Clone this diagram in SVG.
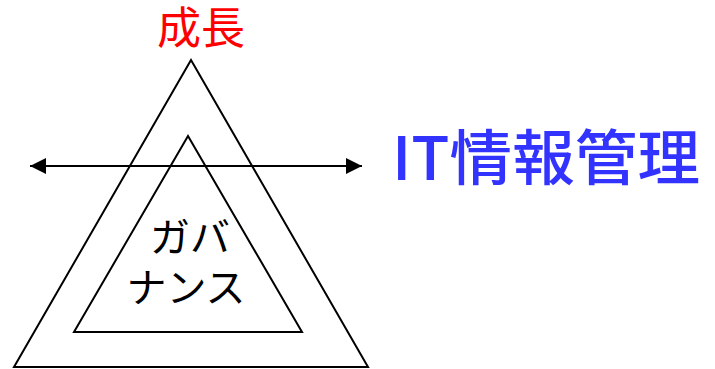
<svg xmlns="http://www.w3.org/2000/svg" width="715" height="369" viewBox="0 0 715 369">
<style>
.tri{fill:none;stroke:#000;stroke-width:2;stroke-linejoin:miter}
.jp{font-family:"Noto Sans CJK JP","Noto Sans",sans-serif}
</style>
<defs>
<marker id="ah" viewBox="0 0 16 16" refX="16" refY="8" markerWidth="16" markerHeight="16" markerUnits="userSpaceOnUse" orient="auto-start-reverse">
<path d="M0,0 L16,8 L0,16 Z" fill="#000"/>
</marker>
</defs>
<rect width="715" height="369" fill="#fff"/>
<g id="outer"><polygon class="tri" points="191,60 14,367 368,367"/></g>
<g id="inner"><polygon class="tri" points="188,136 74,332 302,332"/></g>
<g id="connectors"><line x1="30" y1="166" x2="362" y2="166" stroke="#000" stroke-width="2" marker-start="url(#ah)" marker-end="url(#ah)"/></g>
<g id="growth"><text class="jp" x="201" y="44" font-size="44" fill="#ff0000" text-anchor="middle">成長</text></g>
<g id="it"><text class="jp" x="392" y="180" font-size="60" font-weight="500" fill="#3333ff" textLength="308" lengthAdjust="spacingAndGlyphs">IT情報管理</text></g>
<g id="gov">
<text class="jp" x="190" y="252" font-size="40" fill="#000" text-anchor="middle">ガバ</text>
<text class="jp" x="186" y="302" font-size="40" fill="#000" text-anchor="middle">ナンス</text>
</g>
</svg>
